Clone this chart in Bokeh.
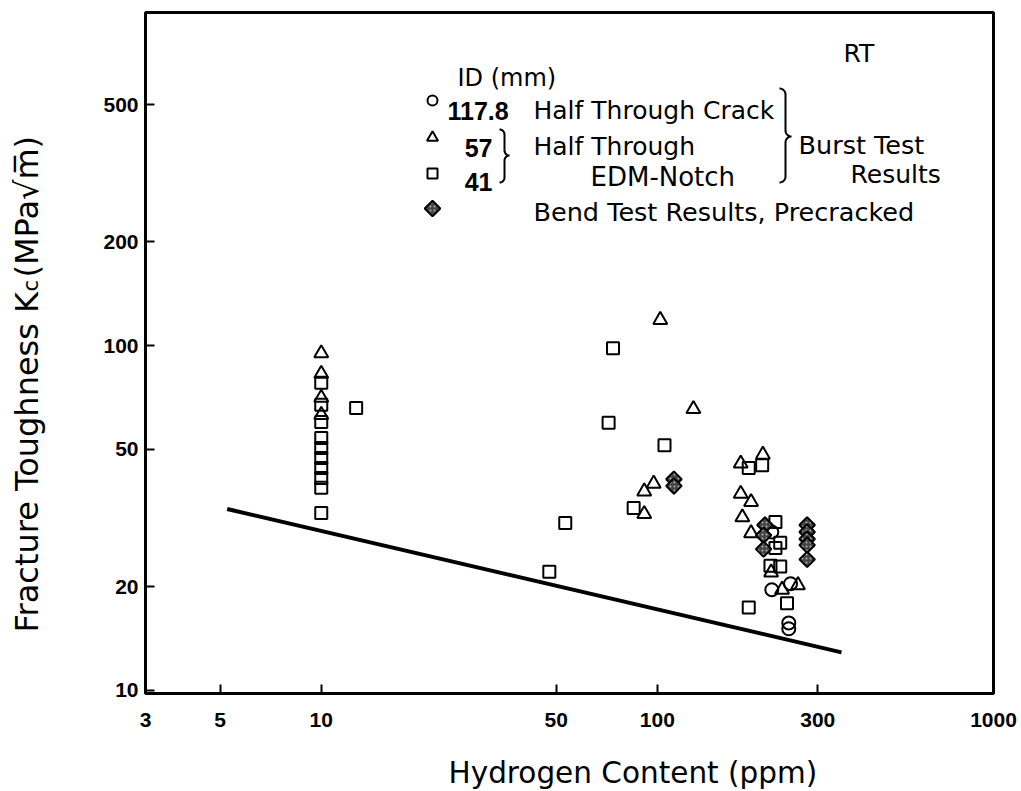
import numpy as np
from bokeh.plotting import figure
from bokeh.models import Range1d, FixedTicker, Label, BasicTickFormatter
from bokeh.embed import file_html
from bokeh.resources import INLINE

# ---------------- data ----------------
x_ticks = [3, 5, 10, 50, 100, 300, 1000]
x_tick_labels = ["3", "5", "10", "50", "100", "300", "1000"]
y_ticks = [10, 20, 50, 100, 200, 500]
y_tick_labels = ["10", "20", "50", "100", "200", "500"]

# ID 117.8 mm, half through crack (circles)
circle_h = [219, 249, 219, 246, 246]
circle_kc = [28.8, 20.4, 19.6, 15.7, 15.1]

# ID 57 mm, half through EDM-notch (triangles)
tri_h = [10, 10, 10, 10, 102, 128, 97.5, 91.4, 91.4, 177, 206, 177, 190, 179, 190, 218, 262, 235]
tri_kc = [95.0, 82.9, 70.6, 63.0, 118.8, 65.5, 39.8, 37.8, 32.5, 45.5, 48.3, 37.2, 35.2, 31.8, 28.6, 22.0, 20.2, 19.6]

# ID 41 mm, half through EDM-notch (squares)
sq_h = [10, 10, 10, 10, 10, 10, 10, 10, 10, 10,
        12.7, 73.8, 71.6, 105, 85, 53.2, 47.7, 187, 205, 224.5, 232, 224.5, 217, 232, 243, 187]
sq_kc = [78.1, 67.4, 60.1, 54.0, 50.5, 47.2, 44.2, 41.3, 38.7, 32.7,
         66.0, 98.2, 59.8, 51.4, 33.8, 30.6, 22.1, 44.2, 45.0, 30.8, 26.8, 25.9, 23.0, 22.9, 17.9, 17.4]

# Bend test results, precracked (diamonds)
dia_h = [112, 112, 209, 207, 207, 279, 279, 279, 279, 279]
dia_kc = [41.0, 39.2, 30.2, 28.2, 25.7, 30.2, 28.8, 27.5, 26.4, 24.0]

# lower-bound line
line_h = [5.25, 353]
line_kc = [33.6, 12.9]

# ---------------- layout ----------------
W, H = 1021, 791
FL, FR, FT, FB = 145, 993, 12, 693
X0, X1 = 3, 1000
Y0, Y1 = 9.8, 925
LX0, LX1 = np.log10(X0), np.log10(X1)
LY0, LY1 = np.log10(Y0), np.log10(Y1)


def dx(px):
    return 10 ** (LX0 + (px - FL) / (FR - FL) * (LX1 - LX0))


def dy(py):
    return 10 ** (LY0 + (FB - py) / (FB - FT) * (LY1 - LY0))


p = figure(width=W, height=H, x_axis_type="log", y_axis_type="log",
           x_range=Range1d(X0, X1), y_range=Range1d(Y0, Y1),
           output_backend="svg", toolbar_location=None,
           min_border_left=FL, min_border_right=W - FR,
           min_border_top=FT, min_border_bottom=H - FB)
p.background_fill_color = "white"
p.border_fill_color = "white"
p.grid.visible = False
p.outline_line_color = "black"
p.outline_line_width = 3
p.outline_line_alpha = 1

p.xaxis.ticker = FixedTicker(ticks=x_ticks, minor_ticks=[])
p.yaxis.ticker = FixedTicker(ticks=y_ticks, minor_ticks=[])
p.xaxis.formatter = BasicTickFormatter(use_scientific=False)
p.yaxis.formatter = BasicTickFormatter(use_scientific=False)
p.xaxis.major_label_overrides = {t: s for t, s in zip(x_ticks, x_tick_labels)}
p.yaxis.major_label_overrides = {t: s for t, s in zip(y_ticks, y_tick_labels)}
for ax in (p.xaxis, p.yaxis):
    ax.axis_line_width = 3
    ax.axis_line_color = "black"
    ax.major_tick_in = 9
    ax.major_tick_out = 0
    ax.major_tick_line_width = 2
    ax.major_tick_line_color = "black"
    ax.minor_tick_line_color = None
    ax.major_label_text_font = "Liberation Sans"
    ax.major_label_text_font_style = "bold"
    ax.major_label_text_font_size = "21px"
    ax.major_label_text_color = "black"
p.xaxis.major_label_standoff = 19
p.yaxis.major_label_standoff = 7

# ---------------- data marks ----------------
p.line(line_h, line_kc, line_color="black", line_width=4)
p.scatter(sq_h, sq_kc, marker="square", size=12, fill_alpha=0,
          line_color="black", line_width=2)
p.scatter(tri_h, tri_kc, marker="triangle", size=14, fill_alpha=0,
          line_color="black", line_width=2)
p.scatter(circle_h, circle_kc, marker="circle", size=13, fill_alpha=0,
          line_color="black", line_width=2)
p.scatter(dia_h, dia_kc, marker="square", angle=np.pi / 4, size=11,
          fill_color="#454545", line_color="black", line_width=2,
          hatch_pattern="dot", hatch_color="#b0b0b0", hatch_scale=4)

# ---------------- legend (drawn by hand) ----------------
LM = 432
p.scatter([dx(LM)], [dy(100)], marker="circle", size=10, fill_alpha=0, line_color="black", line_width=2)
p.scatter([dx(LM)], [dy(137)], marker="triangle", size=11, fill_alpha=0, line_color="black", line_width=2)
p.scatter([dx(LM)], [dy(173)], marker="square", size=10, fill_alpha=0, line_color="black", line_width=2)
p.scatter([dx(LM)], [dy(208)], marker="square", angle=np.pi / 4, size=11,
          fill_color="#454545", line_color="black", line_width=2,
          hatch_pattern="dot", hatch_color="#b0b0b0", hatch_scale=4)


def brace(x0, y0, y1, w, ym):
    r = w / 2.0
    t = np.linspace(0, np.pi / 2, 10)
    pts = []
    pts += [(x0 + r * np.sin(a), y0 + r - r * np.cos(a)) for a in t]
    pts += [(x0 + w - r * np.cos(a), ym - r + r * np.sin(a)) for a in t]
    pts += [(x0 + w - r * np.sin(a), ym + r - r * np.cos(a)) for a in t]
    pts += [(x0 + r * np.cos(a), y1 - r + r * np.sin(a)) for a in t]
    xs = [dx(a) for a, b in pts]
    ys = [dy(b) for a, b in pts]
    return xs, ys


for bx, by0, by1, bw, bym in [(499, 129, 182, 10, 155), (779, 88, 182, 12, 136)]:
    xs, ys = brace(bx, by0, by1, bw, bym)
    p.line(xs, ys, line_color="black", line_width=2)

TF = "DejaVu Sans"


def lab(px, py, text, size, font=TF, style="normal", align="left", angle=0.0, side=None):
    l = Label(x=dx(px), y=dy(py), text=text, text_font=font,
              text_font_size=f"{size}px", text_font_style=style,
              text_align=align, text_baseline="alphabetic",
              text_color="black", angle=angle)
    if side is None:
        p.add_layout(l)
    else:
        p.add_layout(l, side)


lab(843, 53, "RT", 25)
lab(457, 77, "ID (mm)", 24)
lab(447, 110, "117.8", 25, font="Liberation Sans", style="bold")
lab(492, 147, "57", 25, font="Liberation Sans", style="bold", align="right")
lab(492, 181, "41", 25, font="Liberation Sans", style="bold", align="right")
lab(533, 110, "Half Through Crack", 25)
lab(533, 146, "Half Through", 25)
lab(590, 176, "EDM-Notch", 26)
lab(798, 144, "Burst Test", 25.5)
lab(850, 174, "Results", 25)
lab(533, 211, "Bend Test Results, Precracked", 25.5)

# axis titles (in side panels, so they are not clipped to the frame)
lab(448, 772, "Hydrogen Content (ppm)", 29.5, side="below")
lab(26, 632, "Fracture Toughness K", 32, angle=np.pi / 2, side="left")
lab(30, 291, "c", 21, angle=np.pi / 2, side="left")
lab(26, 277, "(MPa\u221am\u0305)", 32, angle=np.pi / 2, side="left")

open("out.html", "w").write(file_html(p, INLINE))
